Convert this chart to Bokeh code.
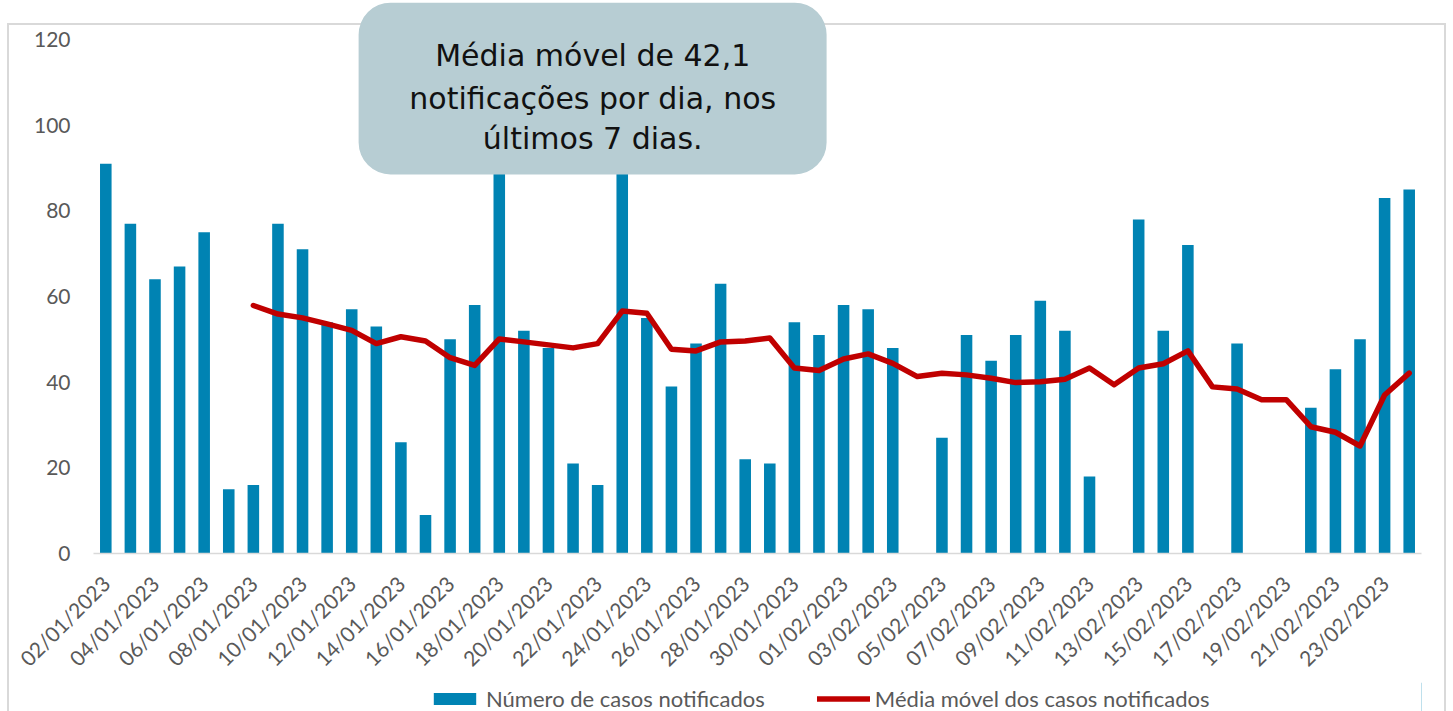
import math
from bokeh.plotting import figure
from bokeh.layouts import column
from bokeh.models import (FactorRange, Range1d, FixedTicker, Legend, LegendItem,
                          BoxAnnotation, Label, CustomJSTickFormatter)
from bokeh.embed import file_html
from bokeh.resources import INLINE

# ---------------- data ----------------
datas = ["02/01/2023", "03/01/2023", "04/01/2023", "05/01/2023", "06/01/2023",
         "07/01/2023", "08/01/2023", "09/01/2023", "10/01/2023", "11/01/2023",
         "12/01/2023", "13/01/2023", "14/01/2023", "15/01/2023", "16/01/2023",
         "17/01/2023", "18/01/2023", "19/01/2023", "20/01/2023", "21/01/2023",
         "22/01/2023", "23/01/2023", "24/01/2023", "25/01/2023", "26/01/2023",
         "27/01/2023", "28/01/2023", "29/01/2023", "30/01/2023", "31/01/2023",
         "01/02/2023", "02/02/2023", "03/02/2023", "04/02/2023", "05/02/2023",
         "06/02/2023", "07/02/2023", "08/02/2023", "09/02/2023", "10/02/2023",
         "11/02/2023", "12/02/2023", "13/02/2023", "14/02/2023", "15/02/2023",
         "16/02/2023", "17/02/2023", "18/02/2023", "19/02/2023", "20/02/2023",
         "21/02/2023", "22/02/2023", "23/02/2023", "24/02/2023"]

casos = [91, 77, 64, 67, 75, 15, 16, 77, 71, 54,
         57, 53, 26, 9, 50, 58, 98, 52, 48, 21,
         16, 103, 55, 39, 49, 63, 22, 21, 54, 51,
         58, 57, 48, 0, 27, 51, 45, 51, 59, 52,
         18, 0, 78, 52, 72, 0, 49, 0, 0, 34,
         43, 50, 83, 85]

datas_media = datas[6:]
media_movel = [57.9, 55.9, 55.0, 53.6, 52.1, 49.0, 50.6, 49.6, 45.7, 43.9,
               50.1, 49.4, 48.7, 48.0, 49.0, 56.6, 56.1, 47.7, 47.3, 49.4,
               49.6, 50.3, 43.3, 42.7, 45.4, 46.6, 44.4, 41.3, 42.1, 41.7,
               40.9, 39.9, 40.1, 40.7, 43.3, 39.4, 43.3, 44.3, 47.3, 38.9,
               38.4, 35.9, 35.9, 29.6, 28.3, 25.1, 37.0, 42.1]

y_ticks = [0, 20, 40, 60, 80, 100, 120]

nome_barras = "Número de casos notificados"
nome_linha = "Média móvel dos casos notificados"
callout = ["Média móvel de 42,1", "notificações por dia, nos", "últimos 7 dias."]

AZUL = "#0083B3"
VERMELHO = "#C00000"
cinza = "#D9D9D9"

# ---------------- main figure ----------------
fundo = (f"linear-gradient({cinza},{cinza}) 7px 23px / 2px 900px no-repeat, "
         f"linear-gradient({cinza},{cinza}) 7px 23px / 1439px 2px no-repeat, "
         f"linear-gradient({cinza},{cinza}) 1444px 23px / 2px 900px no-repeat, "
         "#FFFFFF")

p = figure(x_range=FactorRange(factors=datas), y_range=Range1d(0, 129.1),
           frame_width=1328, frame_height=553,
           output_backend="svg", toolbar_location=None,
           min_border_left=93, min_border_right=32, min_border_top=0,
           min_border_bottom=0)
p.styles = {"background": fundo}
p.outline_line_color = None
p.xgrid.visible = False
p.ygrid.visible = False
p.background_fill_alpha = 0
p.border_fill_alpha = 0

p.vbar(x=datas, top=casos, width=0.47, fill_color=AZUL, line_color=None)
p.line(x=datas_media, y=media_movel, line_color=VERMELHO,
       line_width=5.5, line_join="round", line_cap="round")

xa = p.xaxis[0]
xa.formatter = CustomJSTickFormatter(code="return (index % 2 == 0) ? tick : '';")
xa.major_label_orientation = math.pi / 4
xa.major_tick_line_color = None
xa.minor_tick_line_color = None
xa.axis_line_color = cinza
xa.axis_line_width = 1.5
xa.axis_label_standoff = 0
xa.major_label_text_font = "Lato"
xa.major_label_text_font_size = "21px"
xa.major_label_text_color = "#595959"
xa.major_label_standoff = 20

ya = p.yaxis[0]
ya.ticker = FixedTicker(ticks=y_ticks)
ya.axis_line_color = None
ya.major_tick_line_color = None
ya.minor_tick_line_color = None
ya.major_label_text_font = "Lato"
ya.major_label_text_font_size = "21px"
ya.major_label_text_color = "#595959"
ya.major_label_standoff = 17

caixa = BoxAnnotation(left=10.78, right=29.81, top=128.6, bottom=88.5,
                      fill_color="#B7CDD3", fill_alpha=1, line_color=None,
                      border_radius=32, level="overlay")
p.add_layout(caixa)
for txt, yy in zip(callout, [116.3, 106.2, 96.9]):
    p.add_layout(Label(x=20.3, y=yy, text=txt, text_align="center",
                       text_baseline="alphabetic", text_font="DejaVu Sans",
                       text_font_size="30px", text_color="#111111",
                       level="overlay"))

# ---------------- legend strip (separate small figure) ----------------
fundo2 = (f"linear-gradient({cinza},{cinza}) 7px 0px / 2px 200px no-repeat, "
          f"linear-gradient({cinza},{cinza}) 1444px 0px / 2px 200px no-repeat, "
          "#FFFFFF")
p2 = figure(width=1453, height=44, x_range=Range1d(0, 1), y_range=Range1d(0, 1),
            output_backend="svg", toolbar_location=None,
            x_axis_location=None, y_axis_location=None,
            min_border_left=0, min_border_right=0, min_border_top=0,
            min_border_bottom=0)
p2.styles = {"background": fundo2}
p2.outline_line_color = None
p2.xgrid.visible = False
p2.ygrid.visible = False
p2.background_fill_alpha = 0
p2.border_fill_alpha = 0
# legend-only renderers, placed outside the visible range of this strip
leg_barras = p2.vbar(x=[5], top=[1], width=0.5, fill_color=AZUL, line_color=None)
leg_linha = p2.line(x=[5, 6], y=[5, 5], line_color=VERMELHO, line_width=5.5,
                    line_cap="round")

legend = Legend(items=[LegendItem(label=nome_barras, renderers=[leg_barras]),
                       LegendItem(label=nome_linha, renderers=[leg_linha])],
                orientation="horizontal", location=(335, 14),
                glyph_width=53, glyph_height=15, label_standoff=5, spacing=52,
                label_text_font="Lato", label_text_font_size="22px",
                label_text_color="#595959", border_line_color=None,
                background_fill_alpha=0, padding=0, margin=0)
p2.add_layout(legend)

layout = column(p, p2, spacing=0)
open("out.html", "w").write(file_html(layout, INLINE))
